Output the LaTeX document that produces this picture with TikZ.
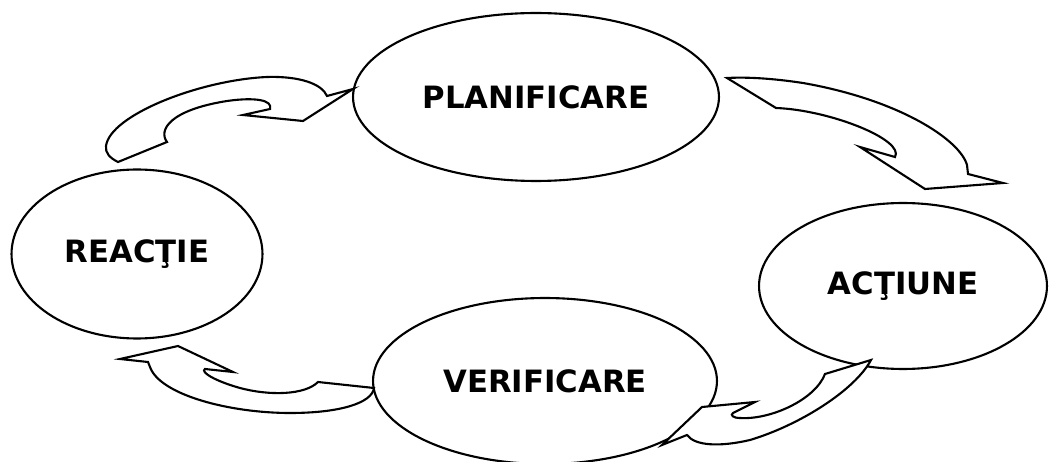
\documentclass[tikz,border=0pt]{standalone}
\usepackage{fontspec}
\setmainfont{DejaVu Sans}
\usepackage{tikz}
\usetikzlibrary{shapes.geometric}

\begin{document}
\begin{tikzpicture}[x=0.02cm, y=-0.02cm,
    phase/.style={ellipse, draw, line width=1.2pt, fill=white, inner sep=0pt,
      font=\bfseries\fontsize{17.5}{20}\selectfont},
    bentarrow/.style={draw, line width=1.2pt, fill=white, line join=miter}]
        \useasboundingbox (0,0) rectangle (1051,462); %
        \node[phase, minimum width=7.32cm, minimum height=3.36cm] (plan) at (536,97) {PLANIFICARE}; %
        \node[phase, minimum width=5.02cm, minimum height=3.38cm] (react) at (137,254) {REACŢIE}; %
        \node[phase, minimum width=5.76cm, minimum height=3.32cm] (act) at (903,286) {ACŢIUNE}; %
        \node[phase, minimum width=6.88cm, minimum height=3.32cm] (verif) at (545,381) {VERIFICARE}; %
        % reactie -> planificare
        \draw[bentarrow] (118,162) -- (167,142) .. controls (158,130) and (170,110) .. (227,101)
          .. controls (255,97) and (273,100) .. (270,109)
          -- (243,115) -- (303,121) -- (353,89) -- (327,96)
          .. controls (322,84) and (300,76) .. (267,77) .. controls (200,80) and (110,115) .. (106,146)
          .. controls (105,153) and (110,158) .. (118,162) -- cycle; %
        % planificare -> actiune
        \draw[bentarrow] (727,78) -- (776,108) .. controls (830,110) and (905,140) .. (895,157)
          -- (860,147) -- (925,189) -- (1003,183) -- (968,174) -- (967,165)
          .. controls (960,140) and (900,100) .. (803,83) .. controls (770,78) and (745,77) .. (727,78) -- cycle; %
        % actiune -> verificare
        \draw[bentarrow] (871,360) -- (825,374) .. controls (815,400) and (770,420) .. (740,418)
          .. controls (733,418) and (730,415) .. (733,413)
          -- (755,402) -- (702,407) -- (662,445) -- (687,435)
          .. controls (695,446) and (720,447) .. (750,440) .. controls (800,425) and (855,390) .. (871,360) -- cycle; %
        % verificare -> reactie
        \draw[bentarrow] (374,388) -- (318,382) .. controls (305,395) and (270,396) .. (240,388)
          .. controls (215,381) and (200,372) .. (205,369)
          -- (233,372) -- (178,346) -- (120,359) -- (148,362) -- (150,367)
          .. controls (160,395) and (230,413) .. (290,413) .. controls (340,413) and (372,403) .. (374,388) -- cycle; %
\end{tikzpicture}
\end{document}
